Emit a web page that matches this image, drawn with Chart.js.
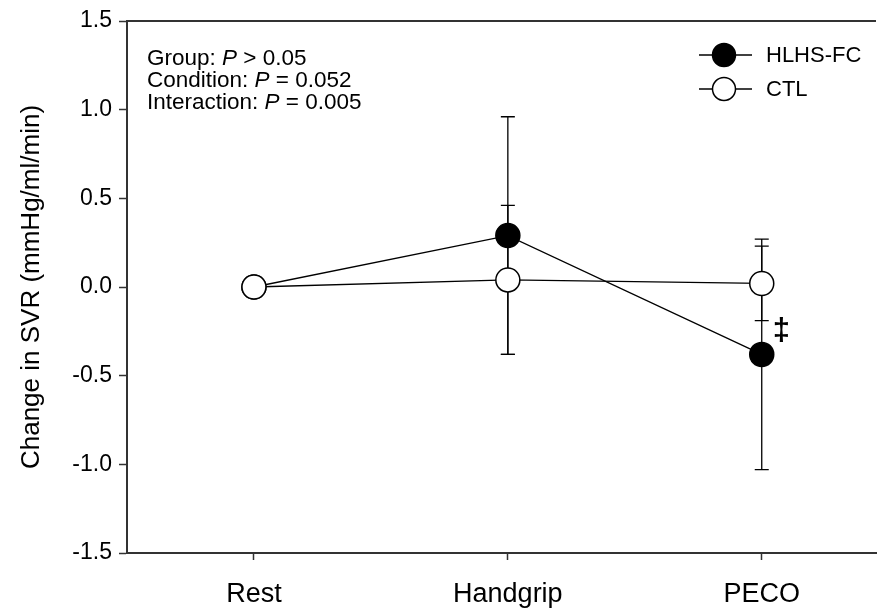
<!DOCTYPE html>
<html>
<head>
<meta charset="utf-8">
<script src="https://cdn.jsdelivr.net/npm/chart.js@4.4.1/dist/chart.umd.min.js"></script>
<style>
  html, body { margin: 0; padding: 0; background: #fff; overflow: hidden; }
  #wrap { width: 877px; height: 614px; position: relative; }
  canvas { display: block; }
</style>
</head>
<body>
<div id="wrap"><canvas id="svrChart" width="877" height="614"></canvas></div>
<script>
const conditions = ["Rest", "Handgrip", "PECO"];
const hlhsMean = [0, 0.29, -0.38];
const hlhsErr = [0, 0.67, 0.65];
const ctlMean = [0, 0.04, 0.02];
const ctlErr = [0, 0.42, 0.21];
const yTicks = [-1.5, -1.0, -0.5, 0.0, 0.5, 1.0, 1.5];
const statLines = [
  ["Group: ", "P", " > 0.05"],
  ["Condition: ", "P", " = 0.052"],
  ["Interaction: ", "P", " = 0.005"]
];
const legendNames = ["HLHS-FC", "CTL"];

const FONT = "'Liberation Sans', Arial, sans-serif";

function toPoints(means) {
  return means.map((v, i) => ({ x: i, y: v }));
}

// error bars drawn under the markers
const errorBars = {
  id: "errorBars",
  beforeDatasetsDraw(chart) {
    const ctx = chart.ctx;
    const xs = chart.scales.x, ys = chart.scales.y;
    const sets = [[hlhsMean, hlhsErr], [ctlMean, ctlErr]];
    ctx.save();
    ctx.strokeStyle = "#000";
    ctx.lineWidth = 1.3;
    sets.forEach(([m, e]) => {
      m.forEach((v, i) => {
        if (!e[i]) return;
        const px = xs.getPixelForValue(i);
        const top = ys.getPixelForValue(v + e[i]);
        const bot = ys.getPixelForValue(v - e[i]);
        ctx.beginPath();
        ctx.moveTo(px, top); ctx.lineTo(px, bot);
        ctx.moveTo(px - 7, top); ctx.lineTo(px + 7, top);
        ctx.moveTo(px - 7, bot); ctx.lineTo(px + 7, bot);
        ctx.stroke();
      });
    });
    ctx.restore();
  }
};

const extras = {
  id: "extras",
  afterDraw(chart) {
    const ctx = chart.ctx;
    const area = chart.chartArea;
    const xs = chart.scales.x, ys = chart.scales.y;
    ctx.save();
    // top frame line
    ctx.strokeStyle = "#333";
    ctx.lineWidth = 2;
    ctx.beginPath();
    ctx.moveTo(area.left - 1, area.top);
    ctx.lineTo(area.right, area.top);
    ctx.stroke();

    // stats text
    ctx.fillStyle = "#000";
    ctx.textBaseline = "alphabetic";
    statLines.forEach((parts, k) => {
      let x = 147;
      const y = 65 + k * 22;
      parts.forEach((p, j) => {
        ctx.font = (j === 1 ? "italic " : "") + "22.5px " + FONT;
        ctx.fillText(p, x, y);
        x += ctx.measureText(p).width;
      });
    });

    // legend
    const fills = ["#000", "#fff"];
    legendNames.forEach((name, k) => {
      const cy = 55 + k * 34;
      ctx.strokeStyle = "#000";
      ctx.lineWidth = 1.3;
      ctx.beginPath();
      ctx.moveTo(699, cy); ctx.lineTo(752, cy);
      ctx.stroke();
      ctx.beginPath();
      ctx.arc(724, cy, 11.5, 0, Math.PI * 2);
      ctx.fillStyle = fills[k];
      ctx.fill();
      ctx.lineWidth = 1.5;
      ctx.stroke();
      ctx.fillStyle = "#000";
      ctx.font = "22px " + FONT;
      ctx.textBaseline = "middle";
      ctx.fillText(name, 766, cy + 1);
    });

    // double dagger marking PECO
    ctx.font = "bold 31px " + FONT;
    ctx.textBaseline = "middle";
    ctx.fillText("\u2021", xs.getPixelForValue(2) + 11, ys.getPixelForValue(-0.25));
    ctx.restore();
  }
};

new Chart(document.getElementById("svrChart"), {
  type: "line",
  data: {
    datasets: [
      {
        label: legendNames[0],
        data: toPoints(hlhsMean),
        borderColor: "#000",
        borderWidth: 1.3,
        pointRadius: 12,
        pointBackgroundColor: "#000",
        pointBorderColor: "#000",
        pointBorderWidth: 1.5,
        order: 1
      },
      {
        label: legendNames[1],
        data: toPoints(ctlMean),
        borderColor: "#000",
        borderWidth: 1.3,
        pointRadius: 12,
        pointBackgroundColor: "#fff",
        pointBorderColor: "#000",
        pointBorderWidth: 1.5,
        order: 0
      }
    ]
  },
  options: {
    responsive: false,
    animation: false,
    layout: { autoPadding: false, padding: { top: 21, right: 1, left: 0, bottom: 0 } },
    plugins: {
      legend: { display: false },
      tooltip: { enabled: false }
    },
    scales: {
      x: {
        type: "linear",
        min: -0.5,
        max: 2.45,
        afterBuildTicks(scale) {
          scale.ticks = conditions.map((_, i) => ({ value: i }));
        },
        afterFit(scale) {
          scale.height = 61;
          scale.paddingLeft = 0;
          scale.paddingRight = 0;
        },
        ticks: {
          callback: (v) => conditions[v],
          font: { family: FONT, size: 27 },
          color: "#000",
          padding: 18,
          maxRotation: 0,
          autoSkip: false
        },
        grid: {
          drawOnChartArea: false,
          tickLength: 7,
          tickColor: "#333",
          tickWidth: 1.5
        },
        border: { color: "#333", width: 2 }
      },
      y: {
        min: -1.5,
        max: 1.5,
        afterBuildTicks(scale) {
          scale.ticks = yTicks.map((v) => ({ value: v }));
        },
        afterFit(scale) {
          scale.width = 127;
          scale.paddingTop = 0;
          scale.paddingBottom = 0;
        },
        ticks: {
          callback: (v) => v.toFixed(1),
          font: { family: FONT, size: 23 },
          color: "#000",
          padding: 7
        },
        grid: {
          drawOnChartArea: false,
          tickLength: 8,
          tickColor: "#333",
          tickWidth: 1.5
        },
        border: { color: "#333", width: 2 },
        title: {
          display: true,
          text: "Change in SVR (mmHg/ml/min)",
          font: { family: FONT, size: 26 },
          color: "#000",
          padding: { top: 16, bottom: 0 }
        }
      }
    }
  },
  plugins: [errorBars, extras]
});
</script>
</body>
</html>
